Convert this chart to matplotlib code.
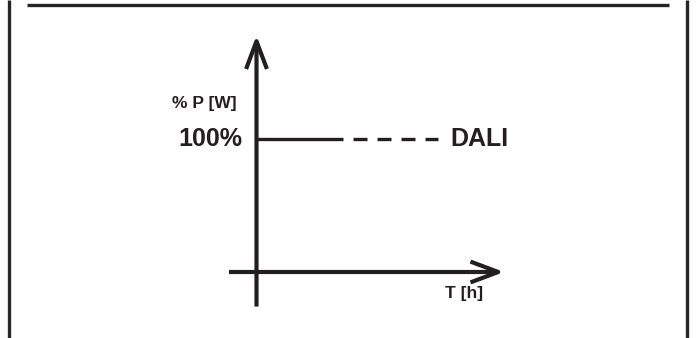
import matplotlib
matplotlib.use("Agg")
import matplotlib.pyplot as plt
from matplotlib.lines import Line2D

plt.rcParams["font.family"] = ["Liberation Sans", "DejaVu Sans"]
plt.rcParams["font.weight"] = "bold"

# ── Data ──────────────────────────────────────────────────────────────────────
T_SOLID = [0.0, 1.0]          # hours, constant 100 % output
P_SOLID = [100, 100]
T_DASH = [1.12, 2.11]         # continuation (DALI controlled)
P_DASH = [100, 100]
T_AXIS = [-0.32, 2.88]        # time axis extent
P_AXIS = [-26, 178]           # power axis extent
LEVEL_LABEL = "100%"
Y_LABEL = "% P [W]"
X_LABEL = "T [h]"
SERIES_LABEL = "DALI"

# ── Layout ────────────────────────────────────────────────────────────────────
W, H = 700, 338
ORIGIN_X, ORIGIN_Y = 256.5, 272      # pixel position of the origin
PX_PER_H = 86.0
PX_PER_PCT = 1.33
INK = "#231f20"

fig = plt.figure(figsize=(W / 100, H / 100), dpi=100)
ax = fig.add_axes([0, 0, 1, 1])
ax.set_xlim(-ORIGIN_X / PX_PER_H, (W - ORIGIN_X) / PX_PER_H)
ax.set_ylim(-(H - ORIGIN_Y) / PX_PER_PCT, ORIGIN_Y / PX_PER_PCT)
ax.axis("off")

# frame of the figure panel
frame_kw = dict(color="#262626", lw=2.4, solid_capstyle="butt")
fig.add_artist(Line2D([27 / W, 669 / W], [1 - 5 / H] * 2, **frame_kw))
fig.add_artist(Line2D([9 / W] * 2, [0, 1], **frame_kw))
fig.add_artist(Line2D([687 / W] * 2, [0, 1], **frame_kw))

# axes arrows
arrow_kw = dict(arrowstyle="->,head_length=2.0,head_width=0.75",
                lw=3.0, color=INK, mutation_scale=10,
                shrinkA=0, shrinkB=0, capstyle="butt")
ax.annotate("", xy=(T_AXIS[1], 0), xytext=(T_AXIS[0], 0), arrowprops=arrow_kw)
ax.annotate("", xy=(0, P_AXIS[1]), xytext=(0, P_AXIS[0]), arrowprops=arrow_kw)

# power level
ax.plot(T_SOLID, P_SOLID, color=INK, lw=2.4, solid_capstyle="butt")
ax.plot(T_DASH, P_DASH, color=INK, lw=2.4, dashes=(4.2, 3.0),
        dash_capstyle="butt")

# labels
ax.text(-0.23, 127, Y_LABEL, ha="right", va="center", fontsize=12.5,
        fontweight="bold", color=INK)
ax.text(-0.17, P_SOLID[0], LEVEL_LABEL, ha="right", va="center",
        fontsize=18, fontweight="bold", color=INK)
ax.text(T_DASH[1] + 0.14, P_DASH[1], SERIES_LABEL, ha="left", va="center",
        fontsize=18, fontweight="bold", color=INK)
ax.text(2.63, -16, X_LABEL, ha="right", va="center", fontsize=12.5,
        fontweight="bold", color=INK)

fig.savefig("out.png", dpi=100)
